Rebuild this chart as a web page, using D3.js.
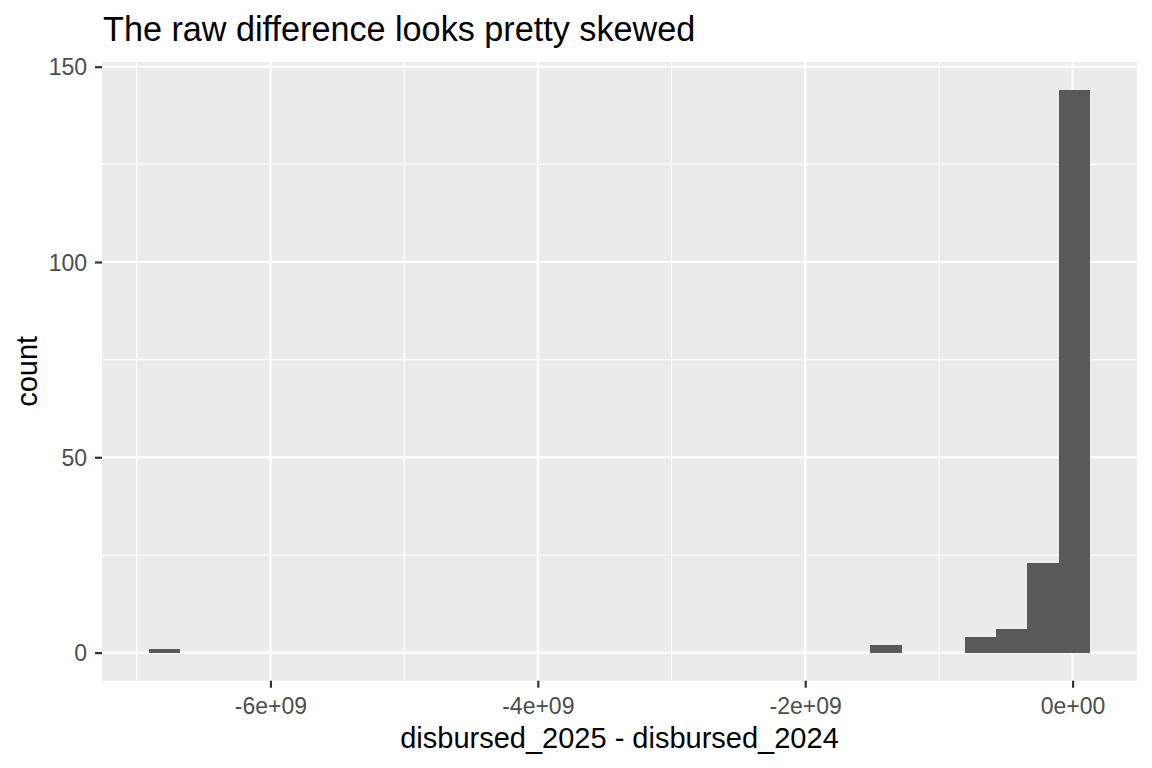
<!DOCTYPE html>
<html>
<head>
<meta charset="utf-8">
<script src="https://cdn.jsdelivr.net/npm/d3@7"></script>
<style>
  html, body { margin: 0; padding: 0; background: #ffffff; }
  svg text { font-family: "Liberation Sans", Arial, sans-serif; }
</style>
</head>
<body>
<svg id="chart" width="1152" height="768"></svg>
<script>
// Histogram bins (units of 1e9)
const binLeft  = [-6.908, -1.512, -0.808, -0.573, -0.339, -0.104];
const binRight = [-6.673, -1.278, -0.573, -0.339, -0.104,  0.130];
const binCount = [1, 2, 4, 6, 23, 144];

const xMajorTicks = [-6, -4, -2, 0];
const xMinorTicks = [-7, -5, -3, -1];
const xTickLabels = ["-6e+09", "-4e+09", "-2e+09", "0e+00"];
const yMajorTicks = [0, 50, 100, 150];
const yMinorTicks = [25, 75, 125];

const titleText = "The raw difference looks pretty skewed";
const xTitle = "disbursed_2025 - disbursed_2024";
const yTitle = "count";

const svg = d3.select("#chart");
const panel = { left: 102, right: 1137, top: 62, bottom: 680.7 };

const xMin = d3.min(binLeft), xMax = d3.max(binRight);
const xPad = (xMax - xMin) * 0.05;
const x = d3.scaleLinear().domain([xMin - xPad, xMax + xPad]).range([panel.left, panel.right]);
const yMaxC = d3.max(binCount);
const yPad = yMaxC * 0.05;
const y = d3.scaleLinear().domain([-yPad, yMaxC + yPad]).range([panel.bottom, panel.top]);

// panel background
svg.append("rect")
  .attr("x", panel.left).attr("y", panel.top)
  .attr("width", panel.right - panel.left).attr("height", panel.bottom - panel.top)
  .attr("fill", "#EBEBEB");

const grid = svg.append("g");
// minor grid
grid.selectAll(".ymin").data(yMinorTicks).enter().append("line")
  .attr("x1", panel.left).attr("x2", panel.right)
  .attr("y1", d => y(d)).attr("y2", d => y(d))
  .attr("stroke", "#ffffff").attr("stroke-width", 1.1);
grid.selectAll(".xmin").data(xMinorTicks).enter().append("line")
  .attr("y1", panel.top).attr("y2", panel.bottom)
  .attr("x1", d => x(d)).attr("x2", d => x(d))
  .attr("stroke", "#ffffff").attr("stroke-width", 1.1);
// major grid
grid.selectAll(".ymaj").data(yMajorTicks).enter().append("line")
  .attr("x1", panel.left).attr("x2", panel.right)
  .attr("y1", d => y(d)).attr("y2", d => y(d))
  .attr("stroke", "#ffffff").attr("stroke-width", 2.2);
grid.selectAll(".xmaj").data(xMajorTicks).enter().append("line")
  .attr("y1", panel.top).attr("y2", panel.bottom)
  .attr("x1", d => x(d)).attr("x2", d => x(d))
  .attr("stroke", "#ffffff").attr("stroke-width", 2.2);

// bars
const bins = binCount.map((c, i) => ({ x0: binLeft[i], x1: binRight[i], c }));
svg.append("g").attr("shape-rendering", "crispEdges")
  .selectAll("rect").data(bins).enter().append("rect")
  .attr("x", d => Math.round(x(d.x0)))
  .attr("width", d => Math.round(x(d.x1)) - Math.round(x(d.x0)))
  .attr("y", d => Math.round(y(d.c)))
  .attr("height", d => Math.round(y(0)) - Math.round(y(d.c)))
  .attr("fill", "#595959");

// axes
const xAxis = d3.axisBottom(x).tickValues(xMajorTicks)
  .tickFormat((d, i) => xTickLabels[i]).tickSize(7).tickPadding(5);
const gx = svg.append("g").attr("transform", `translate(0,${panel.bottom})`).call(xAxis);
gx.select(".domain").remove();
gx.selectAll(".tick line").attr("stroke", "#333333").attr("stroke-width", 2.2);
gx.selectAll(".tick text").attr("fill", "#4D4D4D").style("font-size", "23px")
  .attr("dy", null).attr("y", 33.5);

const yAxis = d3.axisLeft(y).tickValues(yMajorTicks).tickSize(7).tickPadding(8);
const gy = svg.append("g").attr("transform", `translate(${panel.left},0)`).call(yAxis);
gy.select(".domain").remove();
gy.selectAll(".tick line").attr("stroke", "#333333").attr("stroke-width", 2.2);
gy.selectAll(".tick text").attr("fill", "#4D4D4D").style("font-size", "23px")
  .attr("dy", "0.36em");

// titles
svg.append("text").attr("x", 103).attr("y", 40.5)
  .attr("fill", "#000000").style("font-size", "34.2px").text(titleText);
svg.append("text").attr("x", (panel.left + panel.right) / 2).attr("y", 748)
  .attr("text-anchor", "middle").attr("fill", "#000000").style("font-size", "29px").text(xTitle);
svg.append("text")
  .attr("transform", `translate(37,${(panel.top + panel.bottom) / 2}) rotate(-90)`)
  .attr("text-anchor", "middle").attr("fill", "#000000").style("font-size", "29px").text(yTitle);
</script>
</body>
</html>
